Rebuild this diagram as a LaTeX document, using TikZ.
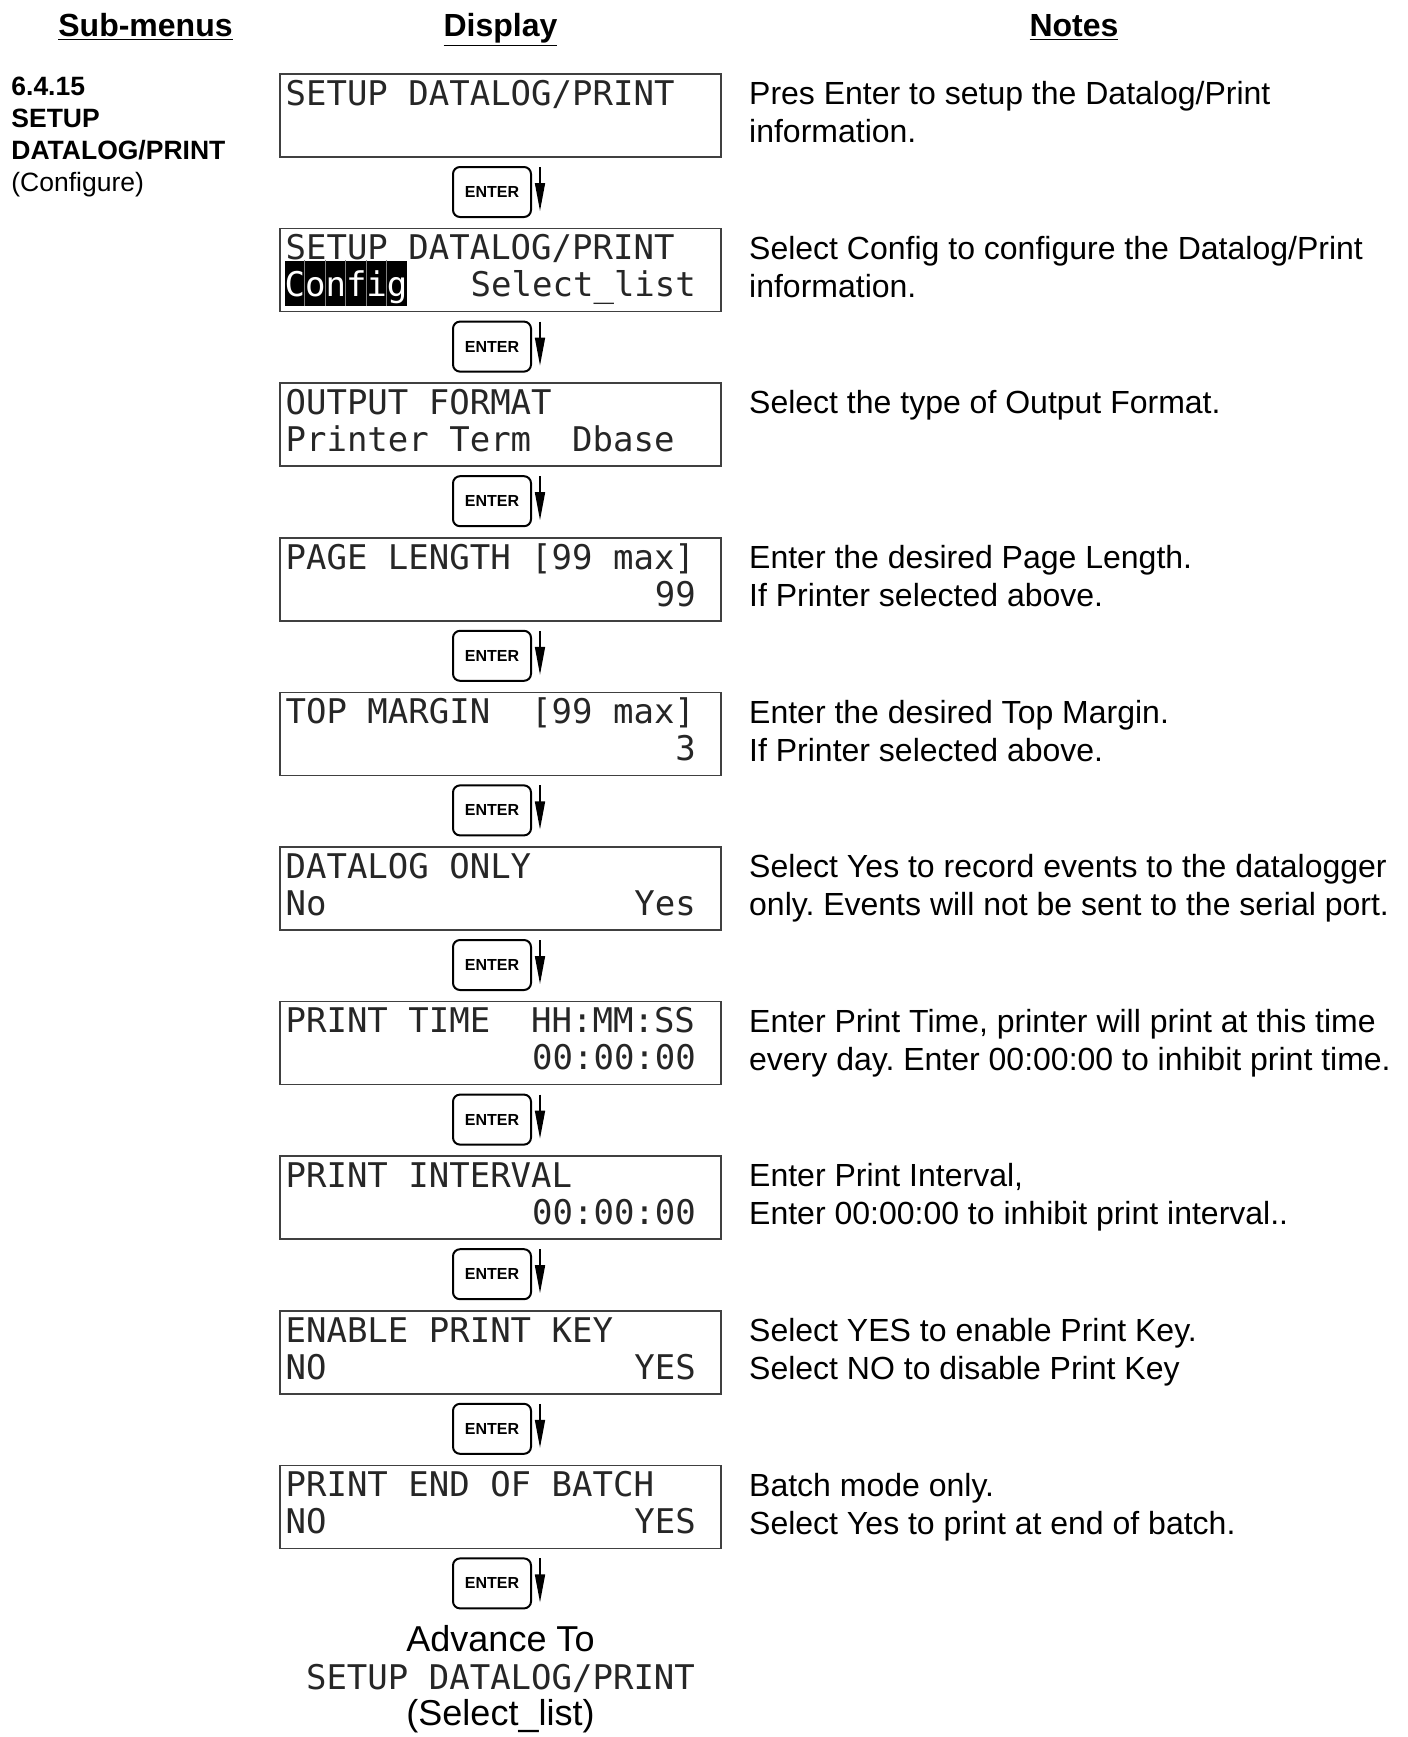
\documentclass[tikz,border=0pt]{standalone}
\usepackage{fontspec}
\setmainfont{Liberation Sans}
\newfontfamily\lcdfont{DejaVu Sans Mono}
\usetikzlibrary{arrows.meta, positioning, calc}
\frenchspacing

\begin{document}
\begin{tikzpicture}[
  x=0.5pt, y=-0.5pt,
  lcd/.style={draw=black!75, line width=0.8pt, minimum width=220.5pt, minimum height=41.5pt, inner sep=0pt},
  enterkey/.style={draw=black, line width=1pt, rounded corners=3.5pt, minimum width=39pt, minimum height=25pt, inner sep=0pt, font=\fontsize{8}{9}\selectfont\bfseries},
  lcdline/.style={anchor=base west, inner sep=0pt, text=black!85, font=\lcdfont\fontsize{17}{17}\selectfont},
  lcdright/.style={lcdline, anchor=base east},
  notetext/.style={anchor=base west, inner sep=0pt, align=left, font=\fontsize{16}{19}\selectfont},
  header/.style={anchor=base, inner sep=0pt, font=\fontsize{16}{18}\selectfont\bfseries},
  arr/.style={-{Triangle[length=14pt, width=5pt]}, line width=0.8pt}
]
\useasboundingbox (0,0) rectangle (1408,1737);
% column headers
\node[header] (hsub) at (145.5,36) {\underline{Sub-menus}};
\node[header] (hdisp) at (500.5,36) {\underline{Display}};
\node[header] (hnotes) at (1074,36) {\underline{Notes}};
% (base of a multi-line node = its last line)
\node[anchor=base west, inner sep=0pt, align=left, font=\fontsize{13.25}{16}\selectfont\bfseries] (title) at (11,191)
  {6.4.15\\SETUP\\DATALOG/PRINT\\{\mdseries (Configure)}};

% display chain
\node[lcd] (b1) at (500.5,115.5) {};
\node[enterkey, below=4.1pt of b1, xshift=-4.25pt] (k1) {ENTER};
\node[lcd, below=4.9pt of k1, xshift=4.25pt] (b2) {};
\node[enterkey, below=4.1pt of b2, xshift=-4.25pt] (k2) {ENTER};
\node[lcd, below=4.9pt of k2, xshift=4.25pt] (b3) {};
\node[enterkey, below=4.1pt of b3, xshift=-4.25pt] (k3) {ENTER};
\node[lcd, below=4.9pt of k3, xshift=4.25pt] (b4) {};
\node[enterkey, below=4.1pt of b4, xshift=-4.25pt] (k4) {ENTER};
\node[lcd, below=4.9pt of k4, xshift=4.25pt] (b5) {};
\node[enterkey, below=4.1pt of b5, xshift=-4.25pt] (k5) {ENTER};
\node[lcd, below=4.9pt of k5, xshift=4.25pt] (b6) {};
\node[enterkey, below=4.1pt of b6, xshift=-4.25pt] (k6) {ENTER};
\node[lcd, below=4.9pt of k6, xshift=4.25pt] (b7) {};
\node[enterkey, below=4.1pt of b7, xshift=-4.25pt] (k7) {ENTER};
\node[lcd, below=4.9pt of k7, xshift=4.25pt] (b8) {};
\node[enterkey, below=4.1pt of b8, xshift=-4.25pt] (k8) {ENTER};
\node[lcd, below=4.9pt of k8, xshift=4.25pt] (b9) {};
\node[enterkey, below=4.1pt of b9, xshift=-4.25pt] (k9) {ENTER};
\node[lcd, below=4.9pt of k9, xshift=4.25pt] (b10) {};
\node[enterkey, below=4.1pt of b10, xshift=-4.25pt] (k10) {ENTER};

\draw[arr] ($(k1.north east)+(8,1)$) -- ($(k1.south east)+(8,-7)$);
\draw[arr] ($(k2.north east)+(8,1)$) -- ($(k2.south east)+(8,-7)$);
\draw[arr] ($(k3.north east)+(8,1)$) -- ($(k3.south east)+(8,-7)$);
\draw[arr] ($(k4.north east)+(8,1)$) -- ($(k4.south east)+(8,-7)$);
\draw[arr] ($(k5.north east)+(8,1)$) -- ($(k5.south east)+(8,-7)$);
\draw[arr] ($(k6.north east)+(8,1)$) -- ($(k6.south east)+(8,-7)$);
\draw[arr] ($(k7.north east)+(8,1)$) -- ($(k7.south east)+(8,-7)$);
\draw[arr] ($(k8.north east)+(8,1)$) -- ($(k8.south east)+(8,-7)$);
\draw[arr] ($(k9.north east)+(8,1)$) -- ($(k9.south east)+(8,-7)$);
\draw[arr] ($(k10.north east)+(8,1)$) -- ($(k10.south east)+(8,-7)$);

% screen texts
\node[lcdline] (t1a) at ($(b1.north west)+(6,32)$) {SETUP DATALOG/PRINT};
\node[lcdline] (t2a) at ($(b2.north west)+(6,32)$) {SETUP DATALOG/PRINT};
\node[lcdline, fill=black, text=white, text height=18pt, text depth=4.5pt] (cfg) at ($(b2.north west)+(5,69)$) {Config};
\foreach \i in {1,...,5}
  \draw[gray, line width=0.3pt] ($(cfg.north west)+(20.47*\i,0)$) -- ($(cfg.south west)+(20.47*\i,0)$);
\node[lcdright] (t2b) at ($(b2.north east)+(-25.5,69)$) {Select\_list};
\node[lcdline] (t3a) at ($(b3.north west)+(6,32)$) {OUTPUT FORMAT};
\node[lcdline] (t3b) at ($(b3.north west)+(6,69)$) {Printer Term~~Dbase};
\node[lcdline] (t4a) at ($(b4.north west)+(6,32)$) {PAGE LENGTH [99 max]};
\node[lcdright] (t4b) at ($(b4.north east)+(-25.5,69)$) {99};
\node[lcdline] (t5a) at ($(b5.north west)+(6,32)$) {TOP MARGIN~~[99 max]};
\node[lcdright] (t5b) at ($(b5.north east)+(-25.5,69)$) {3};
\node[lcdline] (t6a) at ($(b6.north west)+(6,32)$) {DATALOG ONLY};
\node[lcdline] (t6b) at ($(b6.north west)+(6,69)$) {No};
\node[lcdright] (t6c) at ($(b6.north east)+(-25.5,69)$) {Yes};
\node[lcdline] (t7a) at ($(b7.north west)+(6,32)$) {PRINT TIME~~HH:MM:SS};
\node[lcdright] (t7b) at ($(b7.north east)+(-25.5,69)$) {00:00:00};
\node[lcdline] (t8a) at ($(b8.north west)+(6,32)$) {PRINT INTERVAL};
\node[lcdright] (t8b) at ($(b8.north east)+(-25.5,69)$) {00:00:00};
\node[lcdline] (t9a) at ($(b9.north west)+(6,32)$) {ENABLE PRINT KEY};
\node[lcdline] (t9b) at ($(b9.north west)+(6,69)$) {NO};
\node[lcdright] (t9c) at ($(b9.north east)+(-25.5,69)$) {YES};
\node[lcdline] (t10a) at ($(b10.north west)+(6,32)$) {PRINT END OF BATCH};
\node[lcdline] (t10b) at ($(b10.north west)+(6,69)$) {NO};
\node[lcdright] (t10c) at ($(b10.north east)+(-25.5,69)$) {YES};

% notes
\node[notetext] (n1) at ($(b1.north east)+(27,69.5)$) {Pres Enter to setup the Datalog/Print\\information.};
\node[notetext] (n2) at ($(b2.north east)+(27,69.5)$) {Select Config to configure the Datalog/Print\\information.};
\node[notetext] (n3) at ($(b3.north east)+(27,31.5)$) {Select the type of Output Format.};
\node[notetext] (n4) at ($(b4.north east)+(27,69.5)$) {Enter the desired Page Length.\\If Printer selected above.};
\node[notetext] (n5) at ($(b5.north east)+(27,69.5)$) {Enter the desired Top Margin.\\If Printer selected above.};
\node[notetext] (n6) at ($(b6.north east)+(27,69.5)$) {Select Yes to record events to the datalogger\\only. Events will not be sent to the serial port.};
\node[notetext] (n7) at ($(b7.north east)+(27,69.5)$) {Enter Print Time, printer will print at this time\\every day. Enter 00:00:00 to inhibit print time.};
\node[notetext] (n8) at ($(b8.north east)+(27,69.5)$) {Enter Print Interval,\\Enter 00:00:00 to inhibit print interval..};
\node[notetext] (n9) at ($(b9.north east)+(27,69.5)$) {Select YES to enable Print Key.\\Select NO to disable Print Key};
\node[notetext] (n10) at ($(b10.north east)+(27,69.5)$) {Batch mode only.\\Select Yes to print at end of batch.};

% where it goes next
\node[anchor=base, inner sep=0pt, font=\fontsize{18}{20}\selectfont] (adv) at (500.5,1651) {Advance To};
\node[lcdline, anchor=base] (advlcd) at (500.5,1689) {SETUP DATALOG/PRINT};
\node[anchor=base, inner sep=0pt, font=\fontsize{18}{20}\selectfont] (advsel) at (500.5,1725) {(Select\_list)};
\end{tikzpicture}
\end{document}
